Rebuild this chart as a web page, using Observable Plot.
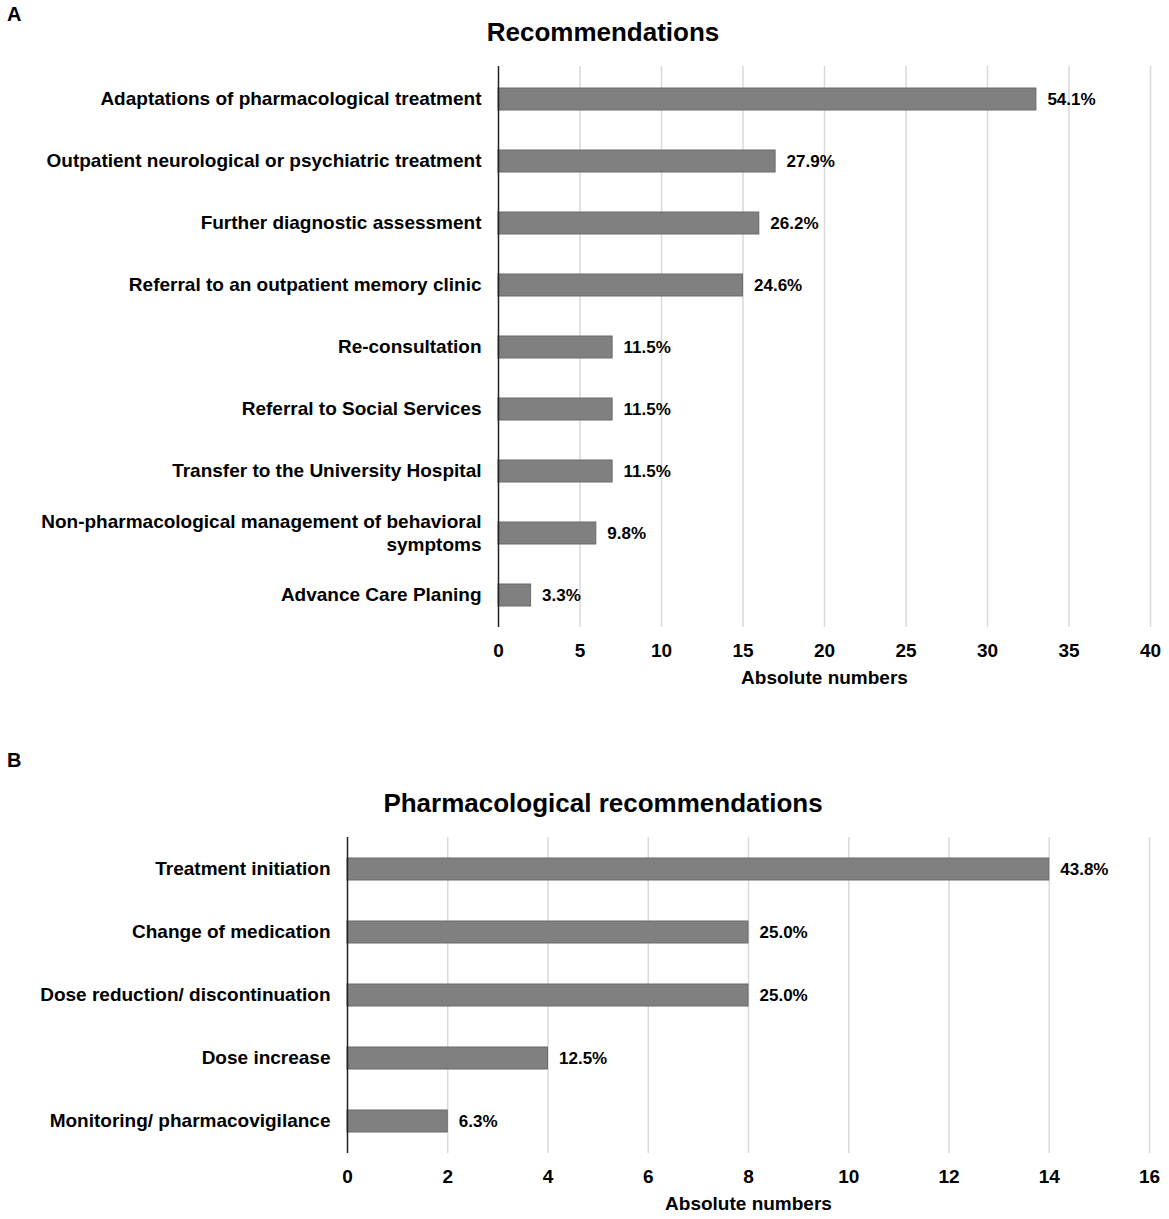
<!DOCTYPE html>
<html>
<head>
<meta charset="utf-8">
<script src="https://cdn.jsdelivr.net/npm/d3@7"></script>
<script src="https://cdn.jsdelivr.net/npm/@observablehq/plot@0.6"></script>
<style>
  html, body { margin: 0; padding: 0; background: #fff; }
  #root { position: relative; width: 1169px; height: 1219px; font-family: "Liberation Sans", Arial, sans-serif; color: #000; overflow: hidden; }
  .panel { position: absolute; font-weight: bold; font-size: 20px; line-height: 23px; }
  .title { position: absolute; font-weight: bold; font-size: 26px; transform: translate(-50%, -50%); white-space: nowrap; }
  .chart { position: absolute; left: 0; }
</style>
</head>
<body>
<div id="root">
  <div class="panel" style="left:7px; top:3px;">A</div>
  <div class="title" style="left:603px; top:32px;">Recommendations</div>
  <div class="chart" id="chartA" style="top:50px;"></div>
  <div class="panel" style="left:7px; top:749px;">B</div>
  <div class="title" style="left:603px; top:803px;">Pharmacological recommendations</div>
  <div class="chart" id="chartB" style="top:820px;"></div>
</div>
<script>
const recCategories = [
  "Adaptations of pharmacological treatment",
  "Outpatient neurological or psychiatric treatment",
  "Further diagnostic assessment",
  "Referral to an outpatient memory clinic",
  "Re-consultation",
  "Referral to Social Services",
  "Transfer to the University Hospital",
  "Non-pharmacological management of behavioral symptoms",
  "Advance Care Planing"
];
const recValues = [33, 17, 16, 15, 7, 7, 7, 6, 2];
const recPercents = [54.1, 27.9, 26.2, 24.6, 11.5, 11.5, 11.5, 9.8, 3.3];
const recTicks = [0, 5, 10, 15, 20, 25, 30, 35, 40];

const pharmCategories = [
  "Treatment initiation",
  "Change of medication",
  "Dose reduction/ discontinuation",
  "Dose increase",
  "Monitoring/ pharmacovigilance"
];
const pharmValues = [14, 8, 8, 4, 2];
const pharmPercents = [43.8, 25.0, 25.0, 12.5, 6.3];
const pharmTicks = [0, 2, 4, 6, 8, 10, 12, 14, 16];

const xTitle = "Absolute numbers";

function wrapLabel(s) {
  return s === "Non-pharmacological management of behavioral symptoms"
    ? "Non-pharmacological management of behavioral\nsymptoms" : s;
}

function makeChart({categories, values, percents, ticks, height, marginLeft, marginRight, marginTop, marginBottom, paddingInner}) {
  const data = categories.map((c, i) => ({cat: c, value: values[i], pct: percents[i].toFixed(1) + "%"}));
  return Plot.plot({
    width: 1169,
    height,
    marginLeft, marginRight, marginTop, marginBottom,
    style: {fontFamily: "'Liberation Sans', Arial, sans-serif", fontSize: "19px", fontWeight: "bold", color: "#000", background: "transparent", overflow: "visible"},
    x: {domain: [ticks[0], ticks[ticks.length - 1]], ticks: ticks, label: null},
    y: {domain: categories, paddingInner, paddingOuter: paddingInner / 2, label: null},
    marks: [
      Plot.gridX(ticks.slice(1), {stroke: "#d9d9d9", strokeOpacity: 1, strokeWidth: 1.5}),
      Plot.barX(data, {x: "value", y: "cat", fill: "#808080", stroke: "#6a6a6a", strokeWidth: 1}),
      Plot.ruleX([0], {stroke: "#222", strokeWidth: 1.5}),
      Plot.text(data, {x: "value", y: "cat", text: "pct", dx: 11, textAnchor: "start", fontSize: 17, fontWeight: "bold", fill: "#000"}),
      Plot.axisX(ticks, {tickSize: 0, tickPadding: 16, fontSize: 19, fontWeight: "bold", fill: "#000", label: null}),
      Plot.axisY({tickSize: 0, tickPadding: 17, dy: -1.5, fontSize: 19, fontWeight: "bold", fill: "#000", label: null, tickFormat: wrapLabel, lineHeight: 1.2}),
      Plot.text([xTitle], {frameAnchor: "bottom", dy: 50, lineAnchor: "middle", fontSize: 19, fontWeight: "bold", fill: "#000"})
    ]
  });
}

document.getElementById("chartA").appendChild(makeChart({
  categories: recCategories, values: recValues, percents: recPercents, ticks: recTicks,
  height: 650, marginLeft: 498, marginRight: 19, marginTop: 16, marginBottom: 73, paddingInner: 0.65
}));
document.getElementById("chartB").appendChild(makeChart({
  categories: pharmCategories, values: pharmValues, percents: pharmPercents, ticks: pharmTicks,
  height: 399, marginLeft: 347, marginRight: 20, marginTop: 17, marginBottom: 66, paddingInner: 0.65
}));
</script>
</body>
</html>
